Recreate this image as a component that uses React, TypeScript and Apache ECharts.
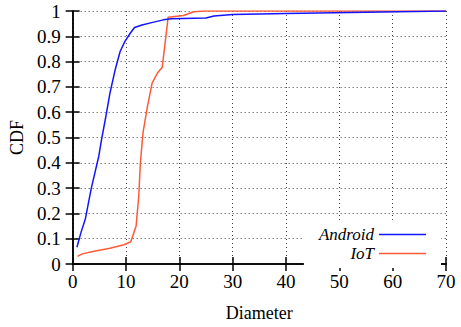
import React, { useEffect, useRef } from "react";
import * as echarts from "echarts";

const androidX = [0.8, 1.5, 2.4, 3.5, 4.9, 5.4, 6.2, 7.0, 8.0, 8.9, 9.8, 10.8, 11.6, 13.0, 15.0, 17.0, 18.5, 25.0, 26.5, 30.0, 40.0, 55.0, 70.0];
const androidY = [0.066, 0.12, 0.18, 0.3, 0.426, 0.49, 0.58, 0.676, 0.77, 0.84, 0.88, 0.912, 0.935, 0.945, 0.955, 0.965, 0.969, 0.972, 0.98, 0.986, 0.99, 0.995, 1.0];

const iotX = [0.9, 1.8, 4.0, 7.0, 9.6, 10.9, 11.9, 12.4, 12.7, 13.2, 14.0, 14.9, 15.9, 16.8, 17.9, 20.8, 22.7, 24.5, 70.0];
const iotY = [0.03, 0.04, 0.05, 0.062, 0.076, 0.088, 0.15, 0.27, 0.4, 0.52, 0.62, 0.715, 0.755, 0.778, 0.975, 0.982, 0.997, 1.0, 1.0];

const seriesNames = ["Android", "IoT"];
const seriesColors = ["#1414ff", "#ff5a36"];

const FONT = "Liberation Serif";

export default function App() {
  const ref = useRef<HTMLDivElement>(null);
  useEffect(() => {
    if (!ref.current) return;
    const chart = echarts.init(ref.current, undefined, { renderer: "svg" });
    const gridLine = { show: true, lineStyle: { color: "#444", width: 1, type: [1, 3] as any } };
    const common = {
      axisLine: { show: true, lineStyle: { color: "#000", width: 1.5 } },
      axisTick: { show: true, inside: true, length: 7, lineStyle: { color: "#000", width: 1.5 } },
    };
    chart.setOption({
      animation: false,
      backgroundColor: "#fff",
      grid: { left: 72, right: 15, top: 11, bottom: 62 },
      legend: {
        right: 20,
        top: 220,
        orient: "vertical",
        align: "right",
        padding: [6, 15, 6, 15],
        backgroundColor: "#fff",
        itemWidth: 47,
        itemHeight: 1.6,
        itemGap: 2,
        icon: "rect",
        data: seriesNames,
        textStyle: { fontFamily: FONT, fontStyle: "italic", fontSize: 17, lineHeight: 14, color: "#000" },
      },
      xAxis: [
        {
          type: "value",
          min: 0,
          max: 70,
          interval: 10,
          name: "Diameter",
          nameLocation: "middle",
          nameGap: 40,
          nameTextStyle: { fontFamily: FONT, fontSize: 18, color: "#000" },
          axisLabel: { fontFamily: FONT, fontSize: 19, color: "#000", margin: 8 },
          splitLine: gridLine,
          ...common,
        },
        {
          type: "value",
          position: "top",
          min: 0,
          max: 70,
          interval: 10,
          axisLabel: { show: false },
          splitLine: { show: false },
          ...common,
        },
      ],
      yAxis: [
        {
          type: "value",
          min: 0,
          max: 1,
          interval: 0.1,
          name: "CDF",
          nameLocation: "middle",
          nameGap: 46,
          nameTextStyle: { fontFamily: FONT, fontSize: 18, color: "#000" },
          axisLabel: {
            fontFamily: FONT,
            fontSize: 19,
            color: "#000",
            margin: 12,
            formatter: (v: number) => String(+v.toFixed(1)),
          },
          splitLine: gridLine,
          ...common,
        },
        {
          type: "value",
          position: "right",
          min: 0,
          max: 1,
          interval: 0.1,
          axisLabel: { show: false },
          splitLine: { show: false },
          ...common,
        },
      ],
      series: [
        {
          name: seriesNames[0],
          type: "line",
          symbol: "none",
          color: seriesColors[0],
          lineStyle: { width: 1.5, color: seriesColors[0] },
          data: androidX.map((x, i) => [x, androidY[i]]),
          z: 3,
        },
        {
          name: seriesNames[1],
          type: "line",
          symbol: "none",
          color: seriesColors[1],
          lineStyle: { width: 1.5, color: seriesColors[1] },
          data: iotX.map((x, i) => [x, iotY[i]]),
          z: 2,
        },
      ],
    });
    return () => chart.dispose();
  }, []);
  return <div ref={ref} style={{ position: "fixed", left: 0, top: 0, width: 461, height: 327 }} />;
}
